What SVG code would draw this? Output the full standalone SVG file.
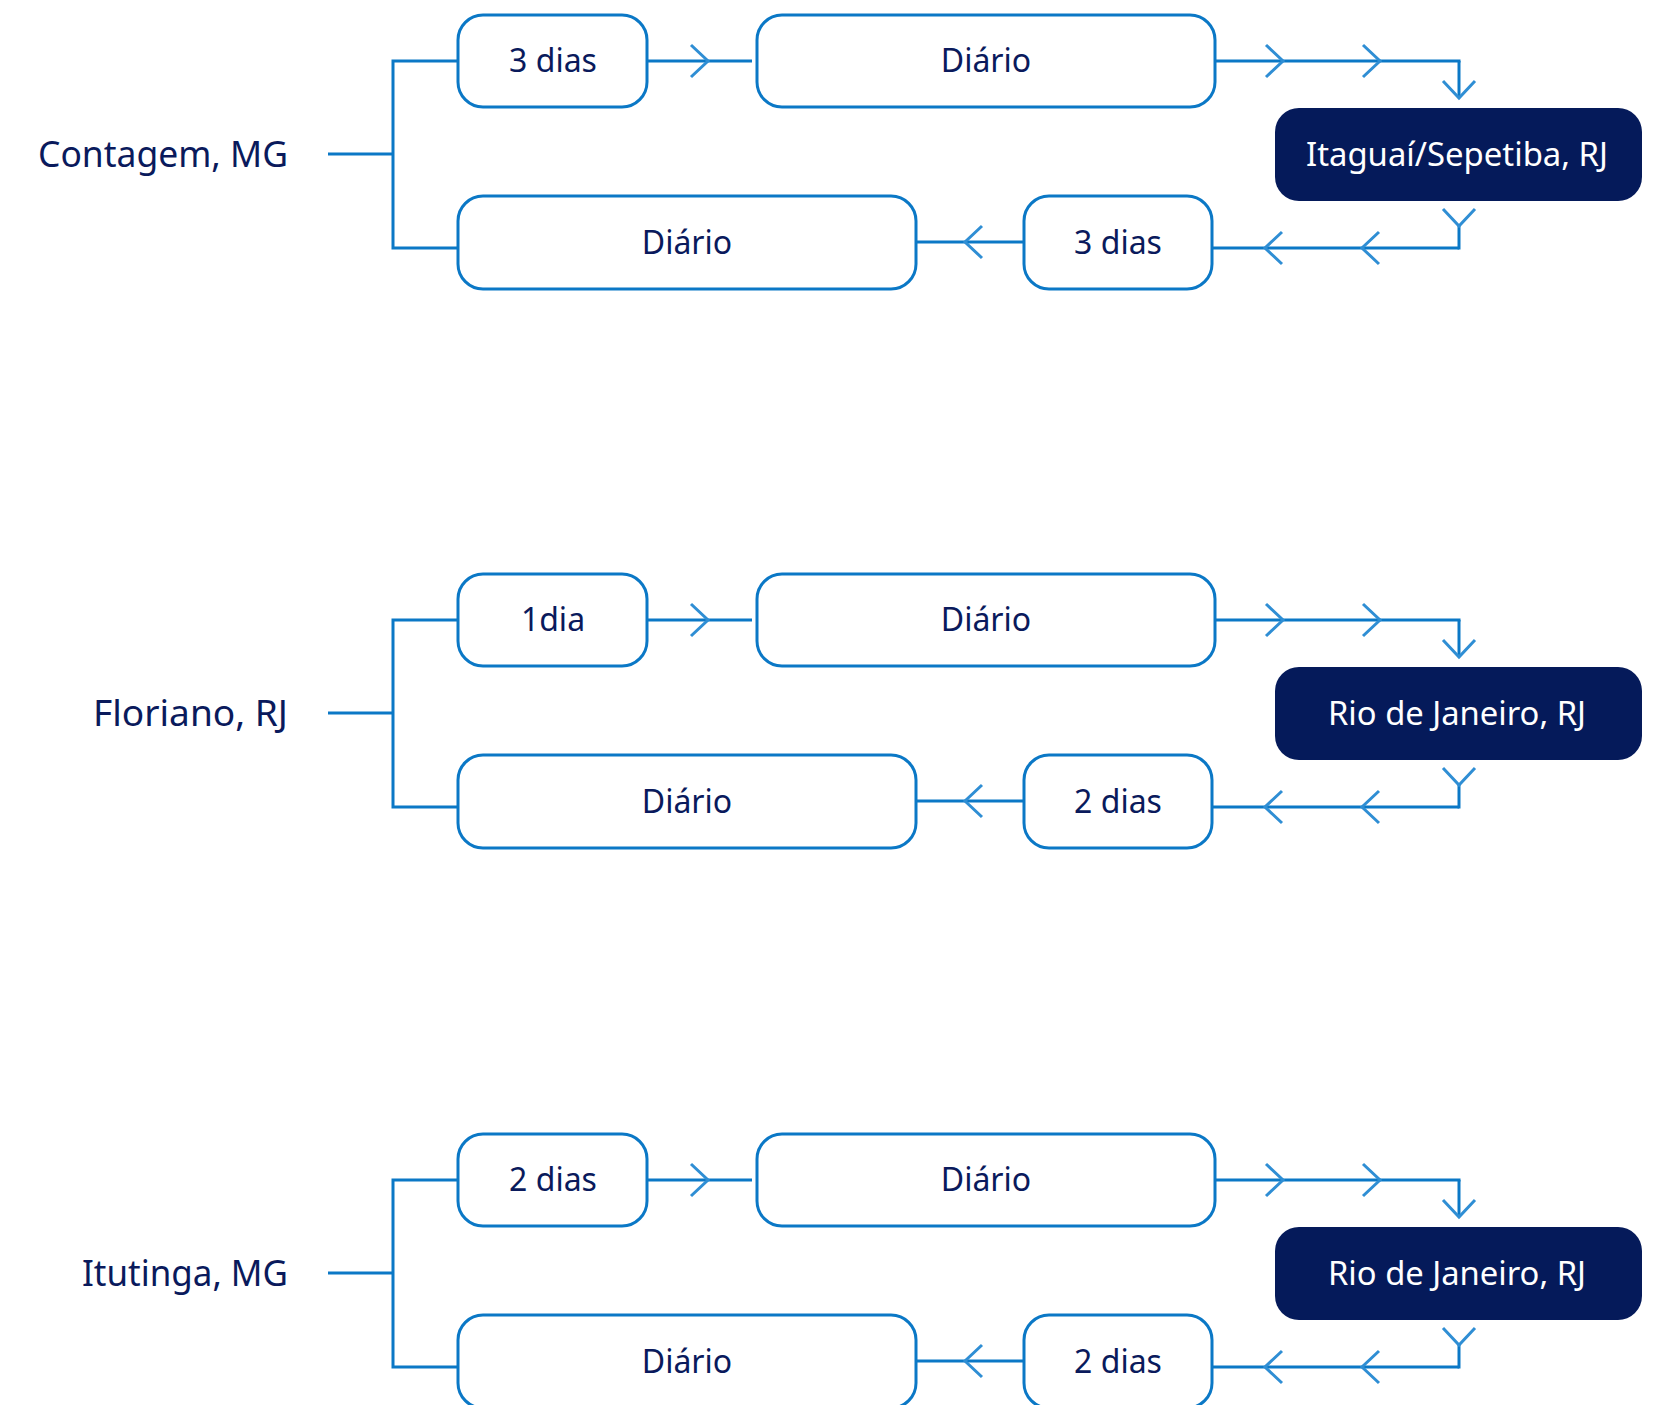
<svg xmlns="http://www.w3.org/2000/svg" width="1664" height="1405" viewBox="0 0 1664 1405">
  <style>
    .box { fill: #ffffff; stroke: #0b78c6; stroke-width: 3; }
    .dest { fill: #051a5a; }
    .lbl { font-family: "Noto Sans", "Open Sans", sans-serif; font-size: 37px; fill: #0a1a5c; text-anchor: end; }
    .txt { font-family: "Noto Sans", "Open Sans", sans-serif; font-size: 32px; fill: #0a1a5c; text-anchor: middle; }
    .wtxt { font-family: "Noto Sans", "Open Sans", sans-serif; font-size: 32px; fill: #ffffff; text-anchor: middle; }
    .ln { fill: none; stroke: #0b78c6; stroke-width: 3; }
    .mid { marker-mid: url(#chev); }
    .end { marker-end: url(#chev); }
    .start { marker-start: url(#chev); }
  </style>
  <defs>
    <marker id="chev" markerUnits="userSpaceOnUse" viewBox="-20 -19 24 38" refX="0" refY="0" markerWidth="24" markerHeight="38" orient="auto" overflow="visible">
      <path d="M-17,-16 L0,0 L-17,16" fill="none" stroke="#2f8ed4" stroke-width="3"/>
    </marker>
  </defs>
  <rect width="1664" height="1405" fill="#ffffff"/>

  <!-- Group 1 nodes -->
  <g id="origin-contagem"><text class="lbl" x="288" y="167" textLength="250" lengthAdjust="spacingAndGlyphs">Contagem, MG</text></g>
  <g id="g1-out-transit"><rect class="box" x="458" y="15" width="189" height="92" rx="25"/><text class="txt" x="553" y="72">3 dias</text></g>
  <g id="g1-out-freq"><rect class="box" x="757" y="15" width="458" height="92" rx="25"/><text class="txt" x="986" y="72">Diário</text></g>
  <g id="g1-dest"><rect class="dest" x="1275" y="108" width="367" height="93" rx="24"/><text class="wtxt" x="1457" y="166" textLength="302" lengthAdjust="spacingAndGlyphs">Itaguaí/Sepetiba, RJ</text></g>
  <g id="g1-ret-transit"><rect class="box" x="1024" y="196" width="188" height="93" rx="25"/><text class="txt" x="1118" y="254">3 dias</text></g>
  <g id="g1-ret-freq"><rect class="box" x="458" y="196" width="458" height="93" rx="25"/><text class="txt" x="687" y="254">Diário</text></g>

  <!-- Group 2 nodes -->
  <g id="origin-floriano" transform="translate(0,559)"><text class="lbl" x="288" y="167" textLength="195" lengthAdjust="spacingAndGlyphs">Floriano, RJ</text></g>
  <g id="g2-out-transit" transform="translate(0,559)"><rect class="box" x="458" y="15" width="189" height="92" rx="25"/><text class="txt" x="553" y="72">1dia</text></g>
  <g id="g2-out-freq" transform="translate(0,559)"><rect class="box" x="757" y="15" width="458" height="92" rx="25"/><text class="txt" x="986" y="72">Diário</text></g>
  <g id="g2-dest" transform="translate(0,559)"><rect class="dest" x="1275" y="108" width="367" height="93" rx="24"/><text class="wtxt" x="1457" y="166" textLength="258" lengthAdjust="spacingAndGlyphs">Rio de Janeiro, RJ</text></g>
  <g id="g2-ret-transit" transform="translate(0,559)"><rect class="box" x="1024" y="196" width="188" height="93" rx="25"/><text class="txt" x="1118" y="254">2 dias</text></g>
  <g id="g2-ret-freq" transform="translate(0,559)"><rect class="box" x="458" y="196" width="458" height="93" rx="25"/><text class="txt" x="687" y="254">Diário</text></g>

  <!-- Group 3 nodes -->
  <g id="origin-itutinga" transform="translate(0,1119)"><text class="lbl" x="288" y="167" textLength="206" lengthAdjust="spacingAndGlyphs">Itutinga, MG</text></g>
  <g id="g3-out-transit" transform="translate(0,1119)"><rect class="box" x="458" y="15" width="189" height="92" rx="25"/><text class="txt" x="553" y="72">2 dias</text></g>
  <g id="g3-out-freq" transform="translate(0,1119)"><rect class="box" x="757" y="15" width="458" height="92" rx="25"/><text class="txt" x="986" y="72">Diário</text></g>
  <g id="g3-dest" transform="translate(0,1119)"><rect class="dest" x="1275" y="108" width="367" height="93" rx="24"/><text class="wtxt" x="1457" y="166" textLength="258" lengthAdjust="spacingAndGlyphs">Rio de Janeiro, RJ</text></g>
  <g id="g3-ret-transit" transform="translate(0,1119)"><rect class="box" x="1024" y="196" width="188" height="93" rx="25"/><text class="txt" x="1118" y="254">2 dias</text></g>
  <g id="g3-ret-freq" transform="translate(0,1119)"><rect class="box" x="458" y="196" width="458" height="93" rx="25"/><text class="txt" x="687" y="254">Diário</text></g>

  <!-- Connectors -->
  <g id="connectors">
    <g id="conn-g1">
      <path class="ln" d="M328,154 L393,154"/>
      <path class="ln" d="M458,61 L393,61 L393,248 L458,248"/>
      <path class="ln mid" d="M647,61 L708,61 L752,61"/>
      <path class="ln mid" d="M1215,61 L1283,61 L1380,61 L1460.5,61"/>
      <path class="ln end" d="M1459,61 L1459,98"/>
      <path class="ln start" d="M1459,226 L1459,249.5"/>
      <path class="ln mid" d="M1459,248 L1362,248 L1265,248 L1212,248"/>
      <path class="ln mid" d="M1024,242 L965,242 L916,242"/>
    </g>
    <g id="conn-g2" transform="translate(0,559)">
      <path class="ln" d="M328,154 L393,154"/>
      <path class="ln" d="M458,61 L393,61 L393,248 L458,248"/>
      <path class="ln mid" d="M647,61 L708,61 L752,61"/>
      <path class="ln mid" d="M1215,61 L1283,61 L1380,61 L1460.5,61"/>
      <path class="ln end" d="M1459,61 L1459,98"/>
      <path class="ln start" d="M1459,226 L1459,249.5"/>
      <path class="ln mid" d="M1459,248 L1362,248 L1265,248 L1212,248"/>
      <path class="ln mid" d="M1024,242 L965,242 L916,242"/>
    </g>
    <g id="conn-g3" transform="translate(0,1119)">
      <path class="ln" d="M328,154 L393,154"/>
      <path class="ln" d="M458,61 L393,61 L393,248 L458,248"/>
      <path class="ln mid" d="M647,61 L708,61 L752,61"/>
      <path class="ln mid" d="M1215,61 L1283,61 L1380,61 L1460.5,61"/>
      <path class="ln end" d="M1459,61 L1459,98"/>
      <path class="ln start" d="M1459,226 L1459,249.5"/>
      <path class="ln mid" d="M1459,248 L1362,248 L1265,248 L1212,248"/>
      <path class="ln mid" d="M1024,242 L965,242 L916,242"/>
    </g>
  </g>
</svg>
